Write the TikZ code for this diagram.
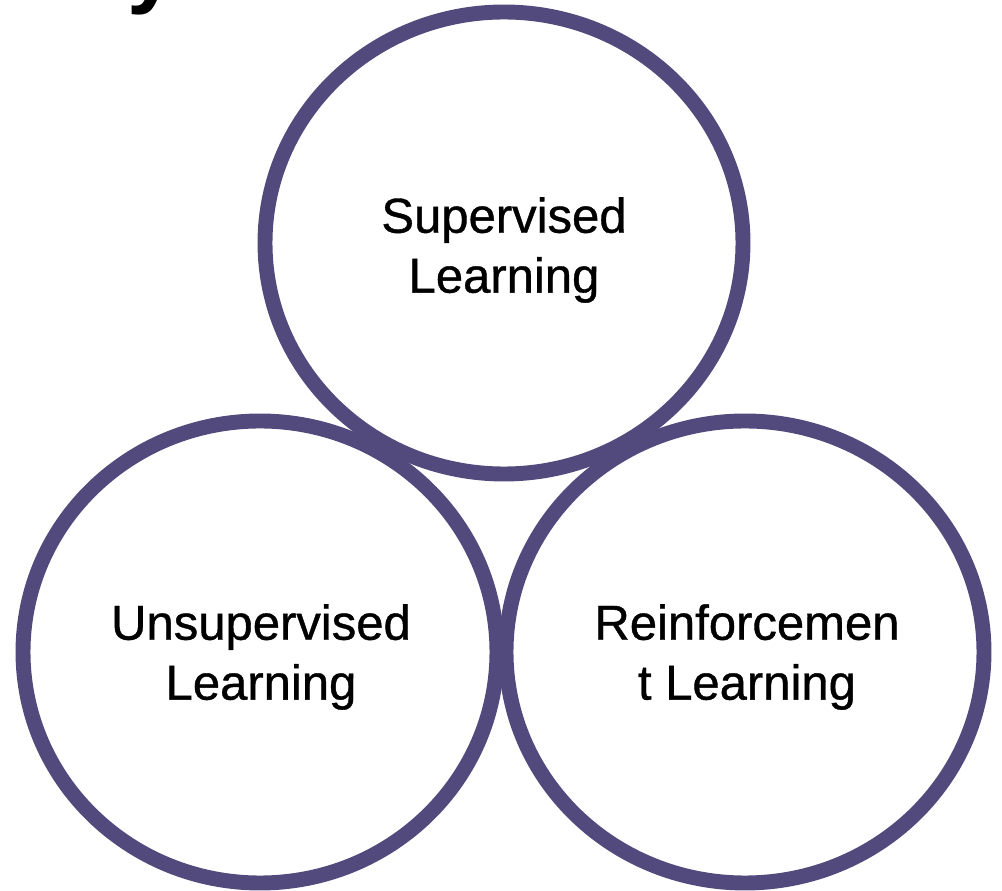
\documentclass[tikz,border=0pt]{standalone}
\usepackage{fontspec}
\setmainfont{Liberation Sans}
\newfontfamily\ringfont{Liberation Sans}[FakeBold=0.8]
\definecolor{ringcol}{RGB}{82,74,124}
\tikzset{
  ring/.style={draw=ringcol, line width=8.5pt},
  ringtext/.style={align=center, inner sep=0pt, font=\ringfont\fontsize{27.9}{34.1}\selectfont}
}
\begin{document}
\begin{tikzpicture}[x=0.02cm, y=-0.02cm]
\useasboundingbox (0,0) rectangle (1002,891);

% title, cut off by the page edge
\node[anchor=base west, inner sep=0pt, font=\fontsize{51}{60}\selectfont\bfseries] (title) at (-22,-3) {Only 3};

\draw[ring] (504,243) ellipse [x radius=239, y radius=231];
\draw[ring] (260,652) ellipse [x radius=237, y radius=231];
\draw[ring] (745,652) ellipse [x radius=239, y radius=231];

\node[ringtext] (sup) at (504,250) {Supervised\\Learning};
\node[ringtext] (unsup) at (261,657) {Unsupervised\\Learning};
\node[ringtext] (reinf) at (747,657) {Reinforcemen\\t Learning};
\end{tikzpicture}
\end{document}
